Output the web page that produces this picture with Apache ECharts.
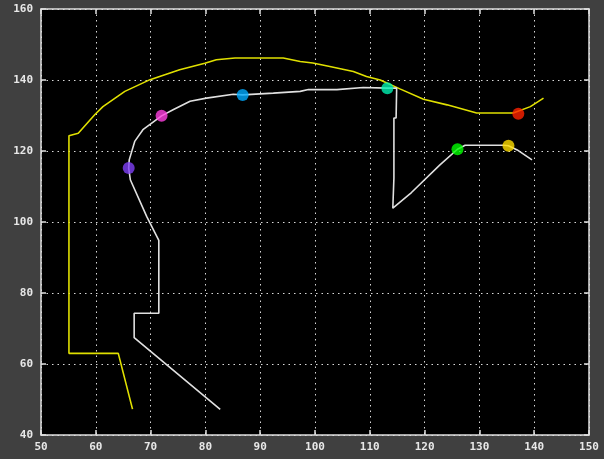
<!DOCTYPE html>
<html>
<head>
<meta charset="utf-8">
<script src="https://cdn.jsdelivr.net/npm/echarts@6/dist/echarts.min.js"></script>
<style>
html,body{margin:0;padding:0;background:#404040;}
#c{width:604px;height:459px;}
</style>
</head>
<body>
<div id="c"></div>
<script>
// ---- data ----
var yellowX = [66.7, 64.1, 55.1, 55.1, 56.8, 59.8, 61.3, 65.3, 69.9, 75.3, 79.9, 82.0, 85.4, 94.2, 97.3, 99.6, 102.7, 107.0, 109.4, 111.9, 115.5, 119.8, 124.1, 129.5, 136.2, 139.3, 141.7];
var yellowY = [47.3, 63.0, 63.0, 124.3, 125.0, 130.2, 132.5, 136.8, 140.1, 142.9, 144.7, 145.7, 146.2, 146.2, 145.2, 144.8, 143.8, 142.4, 141.0, 140.0, 137.5, 134.6, 133.0, 130.7, 130.7, 132.5, 134.9];
var whiteX = [82.7, 67.0, 67.0, 71.5, 71.5, 69.3, 66.3, 66.0, 66.1, 67.1, 68.6, 72.0, 74.1, 77.2, 80.2, 85.1, 86.8, 92.4, 97.3, 98.8, 104.0, 108.8, 113.2, 114.9, 114.8, 114.4, 114.4, 114.2, 117.6, 122.8, 126.0, 127.4, 134.4, 135.3, 136.9, 139.6];
var whiteY = [47.2, 67.4, 74.3, 74.3, 94.8, 101.5, 111.9, 115.2, 117.5, 122.7, 126.0, 129.9, 131.6, 134.0, 134.9, 136.0, 135.8, 136.3, 136.8, 137.3, 137.3, 137.9, 137.7, 137.7, 129.3, 129.3, 112.4, 103.9, 108.3, 116.1, 120.5, 121.6, 121.6, 121.5, 120.3, 117.5];
var dotX = [66.0, 72.0, 86.8, 113.2, 126.0, 135.3, 137.1];
var dotY = [115.2, 129.9, 135.8, 137.7, 120.5, 121.5, 130.5];
var xTicks = [50, 60, 70, 80, 90, 100, 110, 120, 130, 140, 150];
var yTicks = [40, 60, 80, 100, 120, 140, 160];

// ---- styles ----
var dotColors = ['#8040f8', '#ff40e0', '#00aaff', '#00f0b0', '#00ff00', '#ffdd00', '#ff2200'];

function pairs(xs, ys){ return xs.map(function(v,i){ return [v, ys[i]]; }); }

var chart = echarts.init(document.getElementById('c'));
var labelStyle = {color:'#e8e8e8', fontFamily:'DejaVu Sans Mono', fontWeight:'bold', fontSize:11};
var gridLine = {show:true, lineStyle:{color:'#d8d8d8', type:[1.5,4], width:1}};
var axisLine = {show:true, lineStyle:{color:'#e0e0e0', width:1.5}};
var tick = {show:true, inside:true, length:5, lineStyle:{color:'#e0e0e0', width:1.5}};

var series = [
  {type:'line', data:pairs(yellowX, yellowY), symbol:'none', lineStyle:{color:'#e0e000', width:1.6}, animation:false},
  {type:'line', data:pairs(whiteX, whiteY), symbol:'none', lineStyle:{color:'#e0e0e0', width:1.6}, animation:false}
];
dotX.forEach(function(x, i){
  series.push({type:'scatter', data:[[x, dotY[i]]], symbol:'circle', symbolSize:12, itemStyle:{color:dotColors[i]}, animation:false, z:5});
});

chart.setOption({
  backgroundColor:'#404040',
  animation:false,
  grid:{left:41, right:15, top:9, bottom:24, show:true, backgroundColor:'#000000', borderWidth:0},
  xAxis:[
    {type:'value', min:xTicks[0], max:xTicks[xTicks.length-1], interval:10, position:'bottom',
     axisLine:axisLine, axisTick:tick, splitLine:gridLine,
     axisLabel:Object.assign({margin:7}, labelStyle)},
    {type:'value', min:xTicks[0], max:xTicks[xTicks.length-1], interval:10, position:'top',
     axisLine:axisLine, axisTick:tick, splitLine:{show:false}, axisLabel:{show:false}}
  ],
  yAxis:[
    {type:'value', min:yTicks[0], max:yTicks[yTicks.length-1], interval:20, position:'left',
     axisLine:axisLine, axisTick:tick, splitLine:gridLine,
     axisLabel:Object.assign({margin:8}, labelStyle)},
    {type:'value', min:yTicks[0], max:yTicks[yTicks.length-1], interval:20, position:'right',
     axisLine:axisLine, axisTick:tick, splitLine:{show:false}, axisLabel:{show:false}}
  ],
  series:series
});
</script>
</body>
</html>
